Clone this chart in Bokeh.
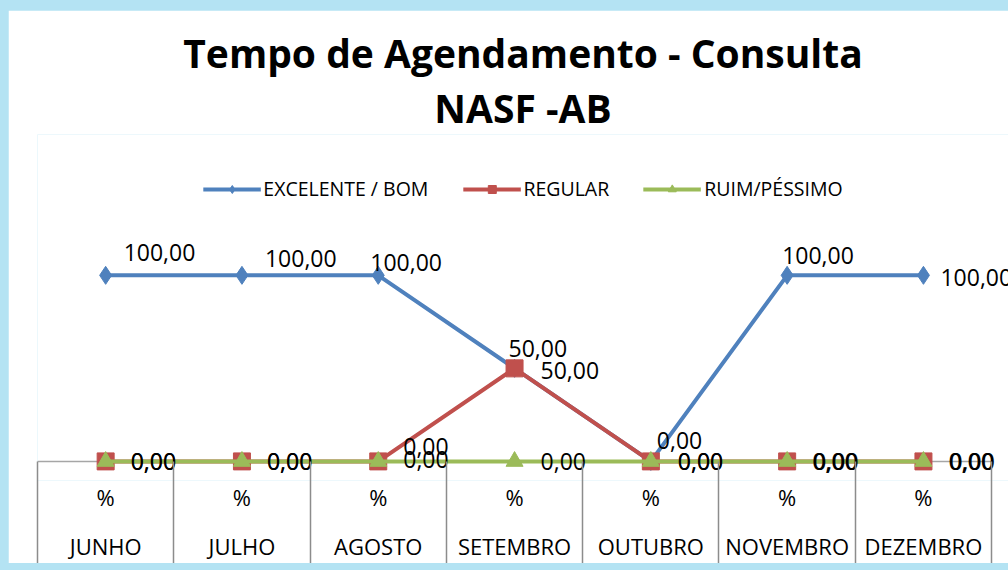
from bokeh.plotting import figure
from bokeh.models import (Range1d, FixedTicker, Title, Legend, LegendItem, LinearAxis,
                          GlobalInlineStyleSheet)
from bokeh.embed import file_html
from bokeh.resources import INLINE
from bokeh.core.properties import value

# ---------------- data ----------------
months = ["JUNHO", "JULHO", "AGOSTO", "SETEMBRO", "OUTUBRO", "NOVEMBRO", "DEZEMBRO"]
unit_label = "%"
excelente = [100, 100, 100, 50, 0, 100, 100]
regular = [0, 0, 0, 50, 0, 0, 0]
ruim = [0, 0, 0, 0, 0, 0, 0]
series_names = ["EXCELENTE / BOM", "REGULAR", "RUIM/PÉSSIMO"]
title_line1 = "Tempo de Agendamento - Consulta"
title_line2 = "NASF -AB"

# ---------------- styles ----------------
FONT = "Open Sans"
colors = ["#4f81bd", "#c0504d", "#9bbb59"]
markers = ["diamond", "square", "triangle"]
marker_sizes = [18, 17, 17]
# data-label offsets in screen px (dx to label's left edge, dy to label's middle; down positive)
label_dx = [[18, 23, -8, 26, 6, -5, 17],
            [25, 25, 25, -6, 27, 25, 25],
            [25, 25, 25, 26, 27, 26, 26]]
label_dy = [[-23, -17, -13, 2, -21, -20, 2],
            [0, 0, -15, -20, 0, 0, 0],
            [0, 0, -2, 0, 0, 0, 0]]

xs = list(range(len(months)))
series = [excelente, regular, ruim]
n = len(months)
nan = float("nan")

p = figure(width=1000, height=553,
           x_range=Range1d(-0.5, 6.624), y_range=Range1d(-10.27, 175.7),
           output_backend="svg", toolbar_location=None,
           x_axis_location=None, y_axis_location=None, title=None,
           min_border_left=29, min_border_right=0, min_border_top=124, min_border_bottom=80)
p.outline_line_color = None
p.background_fill_color = "white"
p.border_fill_color = "white"
p.grid.visible = False
p.stylesheets = [GlobalInlineStyleSheet(
    css="body { background-color: #b4e3f3 !important; padding: 10px 0 0 8px !important; "
        "margin: 0 !important; overflow: hidden; }")]

# category axis: "%" row with separators, then month row
ticker = FixedTicker(ticks=xs, minor_ticks=[i - 0.5 for i in range(n + 1)])
ax1 = LinearAxis(ticker=ticker, bounds=(-0.5, n - 0.5),
                 major_label_overrides={i: unit_label for i in xs},
                 major_tick_out=0, major_tick_in=0,
                 minor_tick_out=84, minor_tick_in=19,
                 minor_tick_line_color="#8c8c8c", minor_tick_line_width=1.5,
                 axis_line_color=None,
                 major_label_standoff=-83,
                 major_label_text_font=FONT, major_label_text_font_size="22px",
                 major_label_text_color="black")
p.add_layout(ax1, "below")
ax2 = LinearAxis(ticker=FixedTicker(ticks=xs), bounds=(-0.5, n - 0.5),
                 major_label_overrides={i: m for i, m in zip(xs, months)},
                 major_tick_out=0, major_tick_in=0, minor_tick_out=0, minor_tick_in=0,
                 axis_line_color=None,
                 major_label_standoff=16,
                 major_label_text_font=FONT, major_label_text_font_size="22px",
                 major_label_text_color="black")
p.add_layout(ax2, "below")

# horizontal axis line at zero, across the category band
p.segment(x0=[-0.5], y0=[0], x1=[n - 0.5], y1=[0], line_color="#a6a6a6",
          line_width=1.5, level="underlay")

legend_items = []
for k, ys in enumerate(series):
    p.line(xs, ys, line_width=4, line_color=colors[k])
    p.scatter(xs, ys, marker=markers[k], size=marker_sizes[k],
              fill_color=colors[k], line_color=colors[k])
    # legend proxies (no visible data) so the legend markers can be smaller
    lr = p.line([nan], [nan], line_width=4, line_color=colors[k])
    sr = p.scatter([nan], [nan], marker=markers[k], size=11,
                   fill_color=colors[k], line_color=colors[k])
    legend_items.append(LegendItem(label=series_names[k], renderers=[lr, sr]))

for k, ys in enumerate(series):
    texts = [f"{v:.2f}".replace(".", ",") for v in ys]
    p.text(xs, ys, text=texts, x_offset=label_dx[k], y_offset=label_dy[k],
           text_align="left", text_baseline="middle",
           text_font=value(FONT), text_font_size="23px", text_color="black")

legend = Legend(items=legend_items, orientation="horizontal", location="top_center",
                glyph_width=58, glyph_height=20, label_standoff=3, spacing=34,
                padding=0, margin=41, border_line_color=None, background_fill_alpha=0,
                label_text_font=FONT, label_text_font_size="19.5px",
                label_text_color="black")
p.add_layout(legend, "center")

t2 = Title(text=title_line2, align="center", offset=-12, text_font=FONT,
           text_font_size="39px", text_font_style="bold", text_color="black", standoff=1)
p.add_layout(t2, "above")
t1 = Title(text=title_line1, align="center", offset=-12, text_font=FONT,
           text_font_size="39px", text_font_style="bold", text_color="black", standoff=0)
p.add_layout(t1, "above")

open("out.html", "w").write(file_html(p, INLINE))
